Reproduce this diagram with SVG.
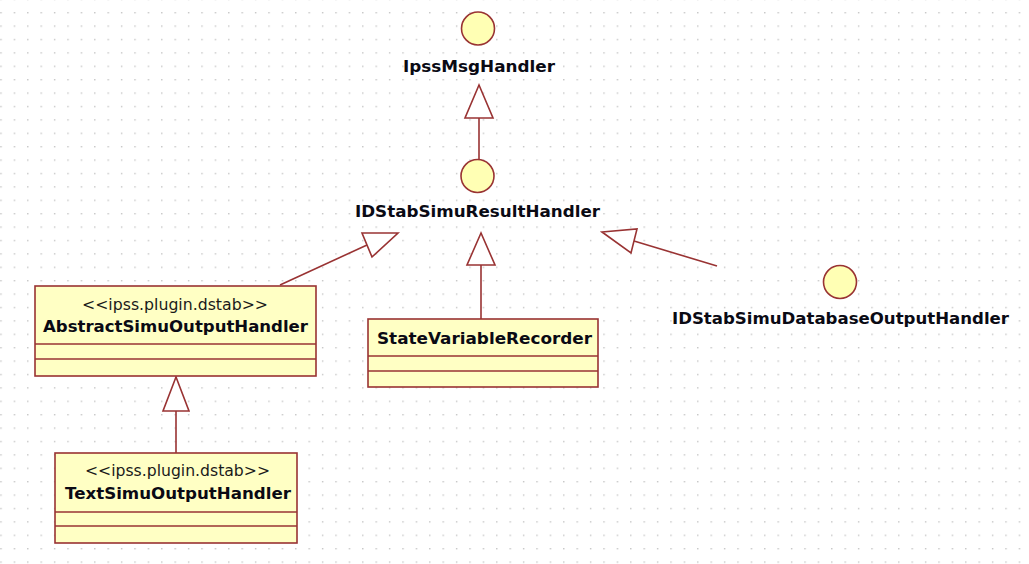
<svg xmlns="http://www.w3.org/2000/svg" width="1029" height="564" viewBox="0 0 1029 564">
  <defs>
    <pattern id="grid" x="0.3" y="-1.4" width="13.4" height="13.4" patternUnits="userSpaceOnUse">
      <rect x="0" y="0" width="1.4" height="1.4" fill="#c4c4c4"/>
    </pattern>
    <style>
      .box { fill: #ffffc4; stroke: #993333; stroke-width: 1.6; }
      .sep { stroke: #993333; stroke-width: 1.6; }
      .iface { fill: #ffffb4; stroke: #993333; stroke-width: 1.6; }
      .edge { stroke: #993333; stroke-width: 1.6; fill: none; }
      .tri { fill: #ffffff; stroke: #993333; stroke-width: 1.6; stroke-linejoin: miter; }
      .name { font-family: "DejaVu Sans", Verdana, sans-serif; font-weight: bold; font-size: 16px; fill: #0a0a14; }
      .stereo { font-family: "DejaVu Sans", Verdana, sans-serif; font-size: 15px; fill: #1a1a1a; }
    </style>
  </defs>
  <rect width="1029" height="564" fill="#ffffff"/>
  <rect width="1029" height="564" fill="url(#grid)"/>

  <g id="connectors">
    <!-- IDStabSimuResultHandler -> IpssMsgHandler -->
    <line class="edge" x1="479" y1="159" x2="479" y2="118"/>
    <polygon class="tri" points="479,85 465,118 493,118"/>
    <!-- AbstractSimuOutputHandler -> IDStabSimuResultHandler -->
    <line class="edge" x1="280" y1="285" x2="367" y2="245"/>
    <polygon class="tri" points="398,233 362,233 372,257"/>
    <!-- StateVariableRecorder -> IDStabSimuResultHandler -->
    <line class="edge" x1="481" y1="319" x2="481" y2="265"/>
    <polygon class="tri" points="481,233 467,265 495,265"/>
    <!-- IDStabSimuDatabaseOutputHandler -> IDStabSimuResultHandler -->
    <line class="edge" x1="717" y1="266" x2="634" y2="241"/>
    <polygon class="tri" points="602,232 637,229 631,253"/>
    <!-- TextSimuOutputHandler -> AbstractSimuOutputHandler -->
    <line class="edge" x1="176" y1="453" x2="176" y2="411"/>
    <polygon class="tri" points="176,377 163,411 189,411"/>
  </g>

  <g id="IpssMsgHandler">
    <circle class="iface" cx="478" cy="28.5" r="16.5"/>
    <text class="name" x="403" y="72" textLength="152" lengthAdjust="spacingAndGlyphs">IpssMsgHandler</text>
  </g>

  <g id="IDStabSimuResultHandler">
    <circle class="iface" cx="477.5" cy="176" r="16.5"/>
    <text class="name" x="355" y="217" textLength="245" lengthAdjust="spacingAndGlyphs">IDStabSimuResultHandler</text>
  </g>

  <g id="IDStabSimuDatabaseOutputHandler">
    <circle class="iface" cx="840" cy="282" r="16.5"/>
    <text class="name" x="672" y="324" textLength="337" lengthAdjust="spacingAndGlyphs">IDStabSimuDatabaseOutputHandler</text>
  </g>

  <g id="AbstractSimuOutputHandler">
    <rect class="box" x="35" y="286" width="281" height="90"/>
    <line class="sep" x1="35" y1="344" x2="316" y2="344"/>
    <line class="sep" x1="35" y1="359" x2="316" y2="359"/>
    <text class="stereo" x="82" y="310" textLength="186" lengthAdjust="spacingAndGlyphs">&lt;&lt;ipss.plugin.dstab&gt;&gt;</text>
    <text class="name" x="43" y="332" textLength="265" lengthAdjust="spacingAndGlyphs">AbstractSimuOutputHandler</text>
  </g>

  <g id="StateVariableRecorder">
    <rect class="box" x="368" y="319" width="230" height="68"/>
    <line class="sep" x1="368" y1="356" x2="598" y2="356"/>
    <line class="sep" x1="368" y1="371" x2="598" y2="371"/>
    <text class="name" x="377" y="344" textLength="215" lengthAdjust="spacingAndGlyphs">StateVariableRecorder</text>
  </g>

  <g id="TextSimuOutputHandler">
    <rect class="box" x="55" y="453" width="242" height="90"/>
    <line class="sep" x1="55" y1="512" x2="297" y2="512"/>
    <line class="sep" x1="55" y1="526" x2="297" y2="526"/>
    <text class="stereo" x="85" y="476" textLength="185" lengthAdjust="spacingAndGlyphs">&lt;&lt;ipss.plugin.dstab&gt;&gt;</text>
    <text class="name" x="65" y="499" textLength="226" lengthAdjust="spacingAndGlyphs">TextSimuOutputHandler</text>
  </g>
</svg>
